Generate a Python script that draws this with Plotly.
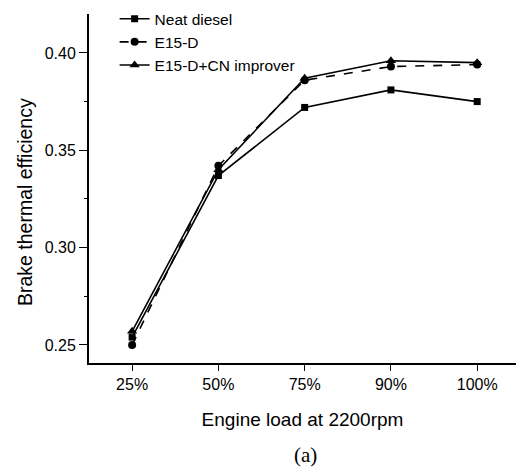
import plotly.graph_objects as go

loads = ["25%", "50%", "75%", "90%", "100%"]
neat_diesel = [0.254, 0.337, 0.372, 0.381, 0.375]
e15d = [0.250, 0.342, 0.386, 0.393, 0.394]
e15d_cn = [0.257, 0.340, 0.387, 0.396, 0.395]

fig = go.Figure()
fig.add_trace(go.Scatter(x=loads, y=neat_diesel, name="Neat diesel", mode="lines+markers",
                         line=dict(color="black", width=1.6),
                         marker=dict(symbol="square", size=7, color="black")))
fig.add_trace(go.Scatter(x=loads, y=e15d, name="E15-D", mode="lines+markers",
                         line=dict(color="black", width=1.6, dash="dash"),
                         marker=dict(symbol="circle", size=8, color="black")))
fig.add_trace(go.Scatter(x=loads, y=e15d_cn, name="E15-D+CN improver", mode="lines+markers",
                         line=dict(color="black", width=1.6),
                         marker=dict(symbol="triangle-up", size=9, color="black")))

fam = "Liberation Sans, Arial, sans-serif"
fig.update_layout(
    width=516, height=469,
    margin=dict(l=89, r=0, t=14, b=106),
    paper_bgcolor="white", plot_bgcolor="white",
    font=dict(family=fam, size=16, color="black"),
    showlegend=True,
    legend=dict(x=0.06, y=1.034, xanchor="left", yanchor="top",
                bgcolor="rgba(0,0,0,0)", font=dict(size=15.5, family=fam),
                tracegroupgap=0),
    xaxis=dict(type="category", range=[-0.5, 4.45], showline=True, linecolor="black",
               linewidth=2, ticks="outside", ticklen=6, tickcolor="black",
               tickfont=dict(size=16),
               showgrid=False, zeroline=False,
               title=dict(text="Engine load at 2200rpm", standoff=20, font=dict(size=19))),
    yaxis=dict(range=[0.2407, 0.420], tickvals=[0.25, 0.30, 0.35, 0.40],
               ticktext=["0.25", "0.30", "0.35", "0.40"],
               showline=True, linecolor="black", linewidth=2,
               ticks="outside", ticklen=8, tickcolor="black",
               tickfont=dict(size=16),
               minor=dict(tickvals=[0.275, 0.325, 0.375], ticks="outside", ticklen=3, tickcolor="black"),
               showgrid=False, zeroline=False),
    annotations=[
        dict(text="Brake thermal efficiency", xref="paper", yref="paper", x=-0.15, y=0.461,
             xanchor="center", yanchor="middle", textangle=-90, showarrow=False,
             font=dict(family=fam, size=19.5)),
        dict(text="(a)", xref="paper", yref="paper", x=0.508, y=-0.2636,
             xanchor="center", yanchor="middle", showarrow=False,
             font=dict(family="Liberation Serif, Times New Roman, serif", size=21)),
    ],
)

fig.write_html("out.html")
